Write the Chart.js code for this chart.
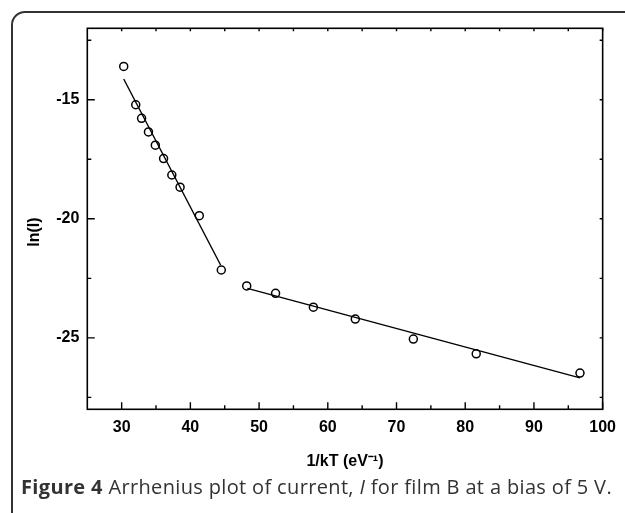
<!DOCTYPE html>
<html>
<head>
<meta charset="utf-8">
<script src="https://cdn.jsdelivr.net/npm/chart.js@4"></script>
<style>
  html, body { margin: 0; padding: 0; background: #fff; }
  #wrap { position: relative; width: 625px; height: 513px; overflow: hidden; background: #fff; }
  #frame { position: absolute; left: 11px; top: 11px; width: 700px; height: 600px;
           border: 2px solid #333; border-radius: 14px; box-sizing: border-box; }
  #cv { position: absolute; left: 0; top: 0; }
  #caption { position: absolute; left: 21px; top: 477px; white-space: nowrap; line-height: 20px;
             font-family: "Open Sans", "Noto Sans", sans-serif; font-size: 20px; letter-spacing: 0.35px; color: #333; }
  #caption b { font-weight: 700; }
</style>
</head>
<body>
<div id="wrap">
  <div id="frame"></div>
  <canvas id="cv" width="625" height="513"></canvas>
  <div id="caption"><b>Figure 4</b> Arrhenius plot of current, <i>I</i> for film B at a bias of 5 V.</div>
</div>
<script>
// ---- data ----
const invKT = [30.3, 32.05, 32.9, 33.9, 34.9, 36.1, 37.3, 38.5, 41.3, 44.5, 48.2, 52.4, 57.9, 64.0, 72.45, 81.6, 96.7];
const lnI   = [-13.6, -15.21, -15.78, -16.35, -16.91, -17.47, -18.16, -18.67, -19.87, -22.15, -22.82, -23.13, -23.71, -24.21, -25.05, -25.67, -26.48];
const fit1X = [30.3, 44.4];
const fit1Y = [-14.13, -21.94];
const fit2X = [48.3, 96.7];
const fit2Y = [-22.92, -26.68];
const xTickLabels = [30, 40, 50, 60, 70, 80, 90, 100];
const yTickLabels = [-25, -20, -15];
const xMinorTicks = [35, 45, 55, 65, 75, 85, 95];
const yMinorTicks = [-27.5, -22.5, -17.5, -12.5];
const xRange = [25, 100];
const yRange = [-28, -12];

const toXY = (xs, ys) => xs.map((x, i) => ({ x: x, y: ys[i] }));

const tickFont = { family: "'Liberation Sans', Arial, sans-serif", size: 16, weight: 'bold' };

const inwardTicks = {
  id: 'inwardTicks',
  afterDraw(chart) {
    const ctx = chart.ctx;
    const a = chart.chartArea;
    const xs = chart.scales.x, ys = chart.scales.y;
    ctx.save();
    ctx.strokeStyle = '#000';
    ctx.lineWidth = 1.6;
    ctx.strokeRect(a.left, a.top, a.right - a.left, a.bottom - a.top);
    ctx.lineWidth = 1.4;
    ctx.beginPath();
    const xt = (v, lenB, lenT) => {
      const p = xs.getPixelForValue(v);
      ctx.moveTo(p, a.bottom); ctx.lineTo(p, a.bottom - lenB);
      ctx.moveTo(p, a.top); ctx.lineTo(p, a.top + lenT);
    };
    const yt = (v, lenL, lenR) => {
      const p = ys.getPixelForValue(v);
      ctx.moveTo(a.left, p); ctx.lineTo(a.left + lenL, p);
      ctx.moveTo(a.right, p); ctx.lineTo(a.right - lenR, p);
    };
    xTickLabels.forEach(v => xt(v, 7, 3));
    xMinorTicks.forEach(v => xt(v, 4, 3));
    yTickLabels.forEach(v => yt(v, 7.5, 3));
    yMinorTicks.forEach(v => yt(v, 4, 3));
    ctx.stroke();
    ctx.restore();
  }
};

new Chart(document.getElementById('cv'), {
  type: 'scatter',
  data: {
    datasets: [
      { data: toXY(invKT, lnI), showLine: false, pointStyle: 'circle', pointRadius: 4, pointHoverRadius: 4,
        pointBorderWidth: 1.5, borderColor: '#000', backgroundColor: 'rgba(255,255,255,0)', order: 1 },
      { data: toXY(fit1X, fit1Y), showLine: true, pointRadius: 0, borderColor: '#000', borderWidth: 1.4, order: 2 },
      { data: toXY(fit2X, fit2Y), showLine: true, pointRadius: 0, borderColor: '#000', borderWidth: 1.4, order: 2 }
    ]
  },
  options: {
    responsive: false,
    devicePixelRatio: 1,
    animation: false,
    events: [],
    layout: { padding: { top: 28.3, right: 15.7, left: 0, bottom: 0 } },
    plugins: { legend: { display: false }, tooltip: { enabled: false } },
    scales: {
      x: {
        type: 'linear', min: xRange[0], max: xRange[1],
        grid: { display: false, drawTicks: false, tickLength: 0 },
        border: { display: false },
        afterBuildTicks: s => { s.ticks = xTickLabels.map(v => ({ value: v })); },
        afterFit: s => { s.height = 513 - 409.3; },
        ticks: { font: tickFont, color: '#000', padding: 9, maxRotation: 0, autoSkip: false },
        title: { display: true, text: '1/kT (eV⁻¹)', font: tickFont, color: '#000', padding: { top: 0, bottom: 41.7 } }
      },
      y: {
        type: 'linear', min: yRange[0], max: yRange[1],
        grid: { display: false, drawTicks: false, tickLength: 0 },
        border: { display: false },
        afterBuildTicks: s => { s.ticks = yTickLabels.map(v => ({ value: v })); },
        afterFit: s => { s.width = 87.3; },
        ticks: { font: tickFont, color: '#000', padding: 8, autoSkip: false },
        title: { display: true, text: 'ln(I)      ', font: tickFont, color: '#000', padding: { top: 25.4, bottom: 0 } }
      }
    }
  },
  plugins: [inwardTicks]
});
</script>
</body>
</html>
